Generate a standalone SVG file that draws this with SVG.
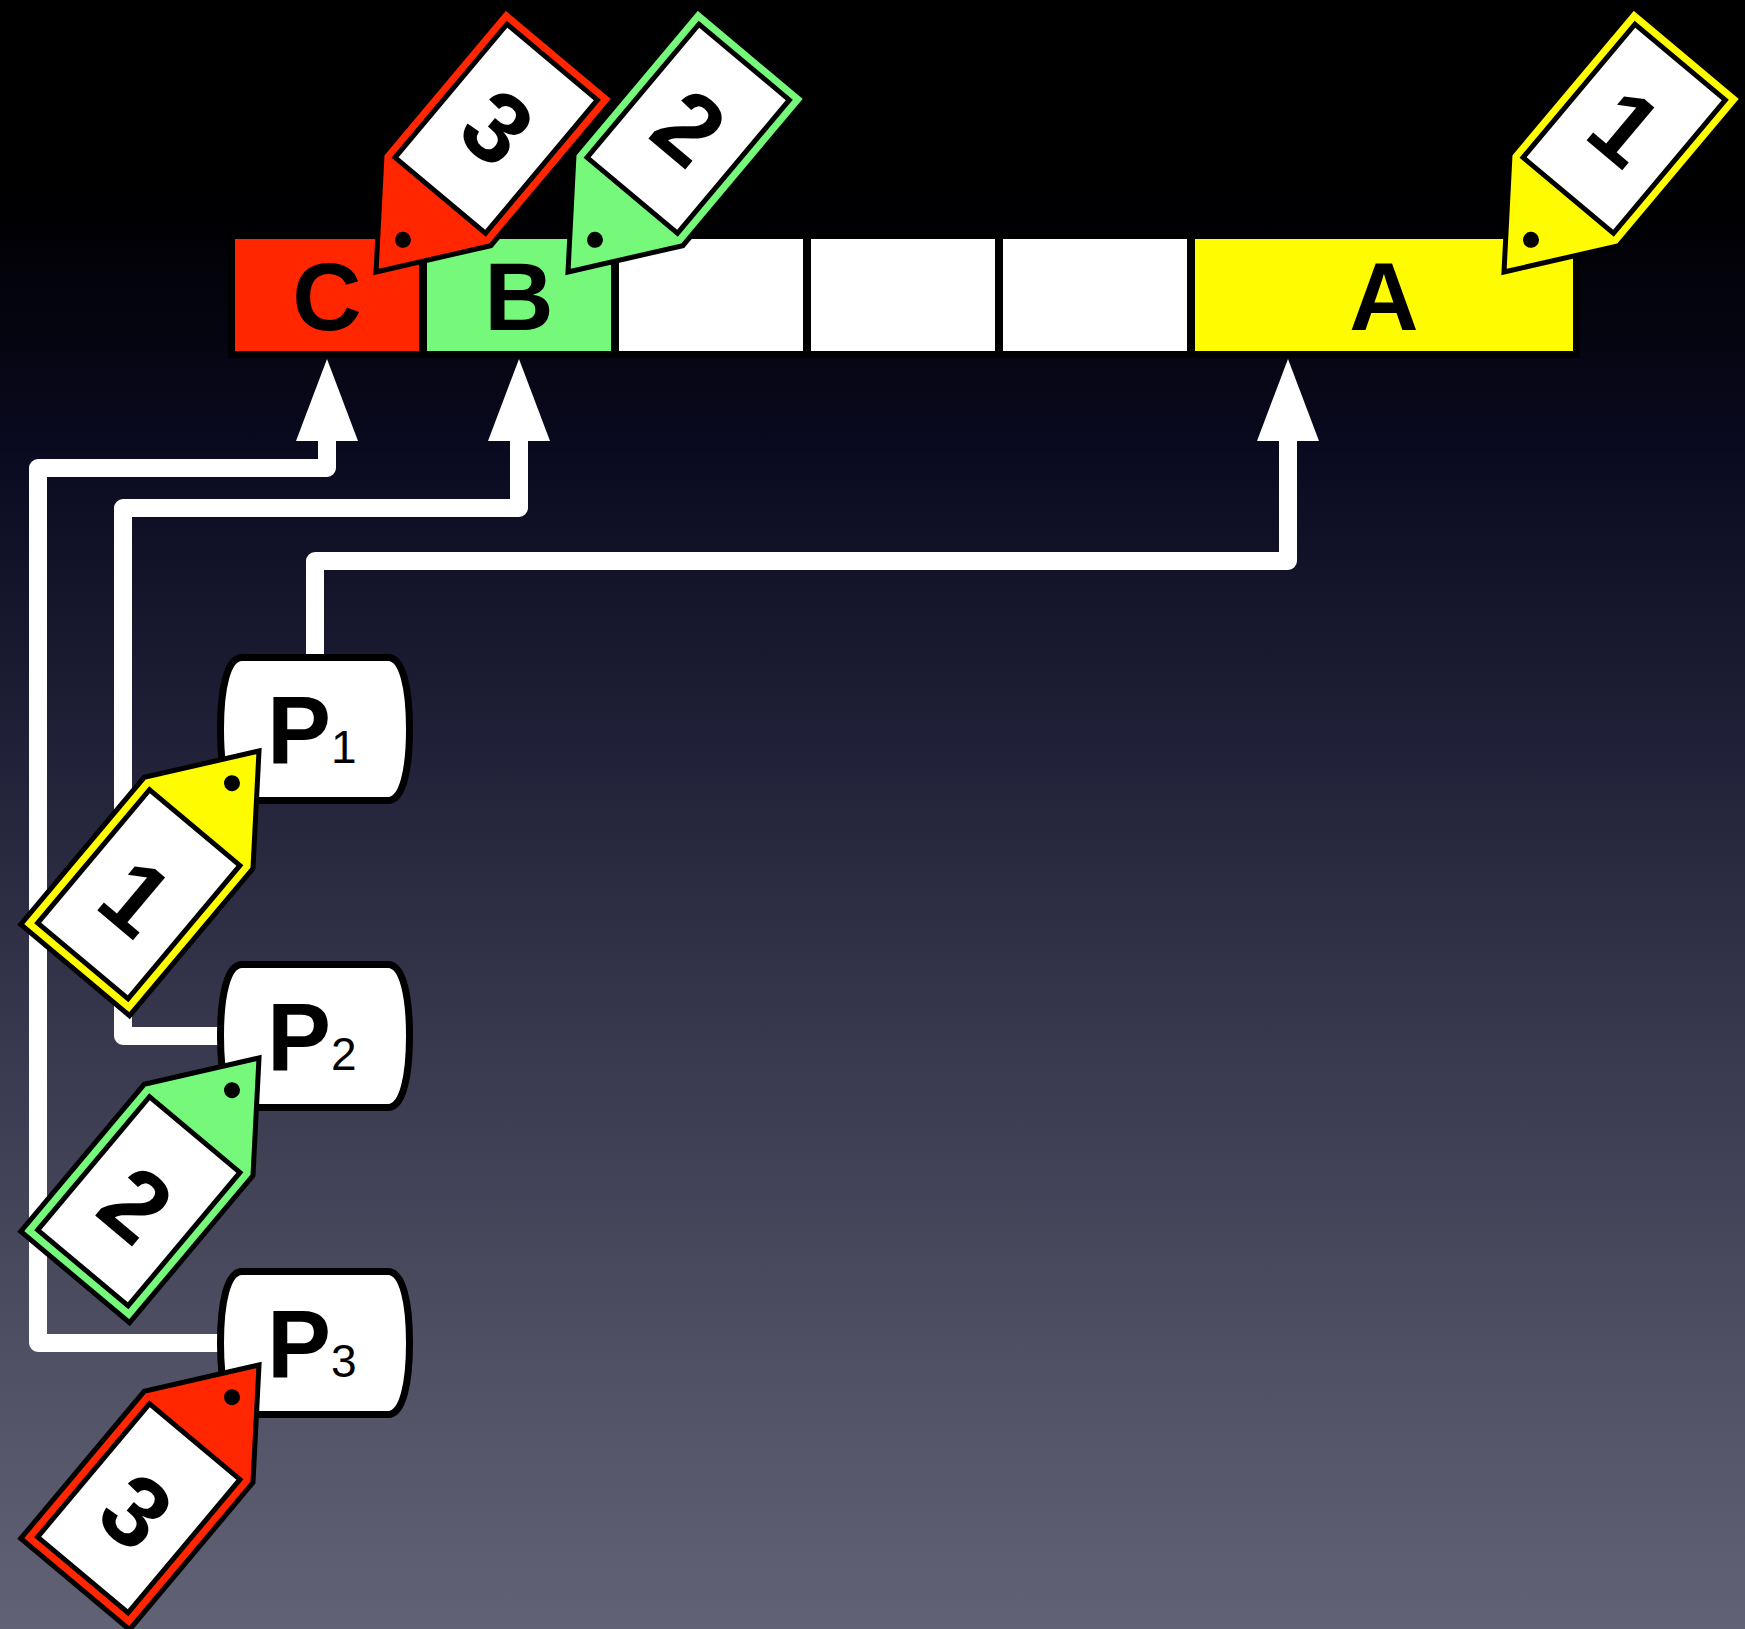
<svg xmlns="http://www.w3.org/2000/svg" width="1745" height="1629" viewBox="0 0 1745 1629">
  <defs>
    <linearGradient id="bg" x1="0" y1="0" x2="0" y2="1">
      <stop offset="0" stop-color="#000000"/>
      <stop offset="0.13" stop-color="#000002"/>
      <stop offset="0.28" stop-color="#0a0a20"/>
      <stop offset="0.45" stop-color="#1f1f37"/>
      <stop offset="0.65" stop-color="#39394f"/>
      <stop offset="0.85" stop-color="#525266"/>
      <stop offset="1" stop-color="#626276"/>
    </linearGradient>
    <marker id="arrow" markerUnits="userSpaceOnUse" markerWidth="82" markerHeight="62" viewBox="-2 -31 82 62" refX="0" refY="0" orient="auto" overflow="visible">
      <path d="M-2,-31 L80,0 L-2,31 Z" fill="#ffffff"/>
    </marker>
    <style>
      .lbl { font-family: "Liberation Sans", Arial, Helvetica, sans-serif; font-weight: bold; fill: #000; }
      .cellLetter { font-size: 96px; text-anchor: middle; }
      .plabel { font-size: 96px; }
      .sub { font-size: 46px; font-weight: normal; }
      .num { font-size: 100px; text-anchor: middle; }
      .cell { stroke: none; }
      .red { fill: #ff2600; }
      .green { fill: #76f97b; }
      .yellow { fill: #fffb00; }
      .white { fill: #ffffff; }
      .tag { stroke: #000; stroke-width: 5; stroke-linejoin: miter; }
      .card { fill: #fff; stroke: #000; stroke-width: 5; }
      .hole { fill: #000; }
      .pnode { fill: #fff; stroke: #000; stroke-width: 7; }
      .conn { fill: none; stroke: #fff; stroke-width: 18; stroke-linejoin: round; stroke-linecap: butt; marker-end: url(#arrow); }
    </style>
  </defs>

  <rect x="0" y="0" width="1745" height="1629" fill="url(#bg)"/>

  <!-- array bar -->
  <g id="array">
    <rect x="228" y="232" width="1352" height="126" fill="#000"/>
    <g id="cell-C">
      <rect class="cell red" x="235" y="239" width="184" height="112"/>
      <text class="lbl cellLetter" x="327" y="330">C</text>
    </g>
    <g id="cell-B">
      <rect class="cell green" x="427" y="239" width="184" height="112"/>
      <text class="lbl cellLetter" x="519" y="330">B</text>
    </g>
    <g id="cell-empty1"><rect class="cell white" x="619" y="239" width="184" height="112"/></g>
    <g id="cell-empty2"><rect class="cell white" x="811" y="239" width="184" height="112"/></g>
    <g id="cell-empty3"><rect class="cell white" x="1003" y="239" width="184" height="112"/></g>
    <g id="cell-A">
      <rect class="cell yellow" x="1195" y="239" width="378" height="112"/>
      <text class="lbl cellLetter" x="1384" y="330">A</text>
    </g>
  </g>

  <!-- connectors -->
  <g id="connectors">
    <path class="conn" d="M315,729 V561 H1288 V439"/>
    <path class="conn" d="M315,1036 H123 V508 H519 V439"/>
    <path class="conn" d="M315,1343 H38 V468 H327 V439"/>
  </g>

  <!-- process nodes -->
  <g id="P1" transform="translate(0,729)">
    <path class="pnode" d="M242,-71.5 H388 C403,-71.5 409.5,-40 409.5,0 C409.5,40 403,71.5 388,71.5 H242 C227,71.5 220.5,40 220.5,0 C220.5,-40 227,-71.5 242,-71.5 Z"/>
    <text class="lbl plabel" x="267" y="34">P<tspan class="sub">1</tspan></text>
  </g>
  <g id="P2" transform="translate(0,1036)">
    <path class="pnode" d="M242,-71.5 H388 C403,-71.5 409.5,-40 409.5,0 C409.5,40 403,71.5 388,71.5 H242 C227,71.5 220.5,40 220.5,0 C220.5,-40 227,-71.5 242,-71.5 Z"/>
    <text class="lbl plabel" x="267" y="34">P<tspan class="sub">2</tspan></text>
  </g>
  <g id="P3" transform="translate(0,1343)">
    <path class="pnode" d="M242,-71.5 H388 C403,-71.5 409.5,-40 409.5,0 C409.5,40 403,71.5 388,71.5 H242 C227,71.5 220.5,40 220.5,0 C220.5,-40 227,-71.5 242,-71.5 Z"/>
    <text class="lbl plabel" x="267" y="34">P<tspan class="sub">3</tspan></text>
  </g>

  <!-- tags on the array -->
  <g id="tag-C-3" transform="translate(376,272) rotate(220)">
    <path class="tag red" d="M0,0 L71,94 V286 H-71 V94 Z"/>
    <rect class="card" x="-59" y="100" width="118" height="174"/>
    <circle class="hole" cx="0" cy="42" r="8"/>
    <text class="lbl num" transform="translate(0,190) rotate(180)" y="36">3</text>
  </g>
  <g id="tag-B-2" transform="translate(568,272) rotate(220)">
    <path class="tag green" d="M0,0 L71,94 V286 H-71 V94 Z"/>
    <rect class="card" x="-59" y="100" width="118" height="174"/>
    <circle class="hole" cx="0" cy="42" r="8"/>
    <text class="lbl num" transform="translate(0,190) rotate(180)" y="36">2</text>
  </g>
  <g id="tag-A-1" transform="translate(1504,272) rotate(220)">
    <path class="tag yellow" d="M0,0 L71,94 V286 H-71 V94 Z"/>
    <rect class="card" x="-59" y="100" width="118" height="174"/>
    <circle class="hole" cx="0" cy="42" r="8"/>
    <text class="lbl num" transform="translate(0,190) rotate(180)" y="36">1</text>
  </g>

  <!-- tags on the processes -->
  <g id="tag-P1-1" transform="translate(259,751) rotate(40)">
    <path class="tag yellow" d="M0,0 L71,94 V286 H-71 V94 Z"/>
    <rect class="card" x="-59" y="100" width="118" height="174"/>
    <circle class="hole" cx="0" cy="42" r="8"/>
    <text class="lbl num" x="0" y="226">1</text>
  </g>
  <g id="tag-P2-2" transform="translate(259,1058) rotate(40)">
    <path class="tag green" d="M0,0 L71,94 V286 H-71 V94 Z"/>
    <rect class="card" x="-59" y="100" width="118" height="174"/>
    <circle class="hole" cx="0" cy="42" r="8"/>
    <text class="lbl num" x="0" y="226">2</text>
  </g>
  <g id="tag-P3-3" transform="translate(259,1365) rotate(40)">
    <path class="tag red" d="M0,0 L71,94 V286 H-71 V94 Z"/>
    <rect class="card" x="-59" y="100" width="118" height="174"/>
    <circle class="hole" cx="0" cy="42" r="8"/>
    <text class="lbl num" x="0" y="226">3</text>
  </g>
</svg>
